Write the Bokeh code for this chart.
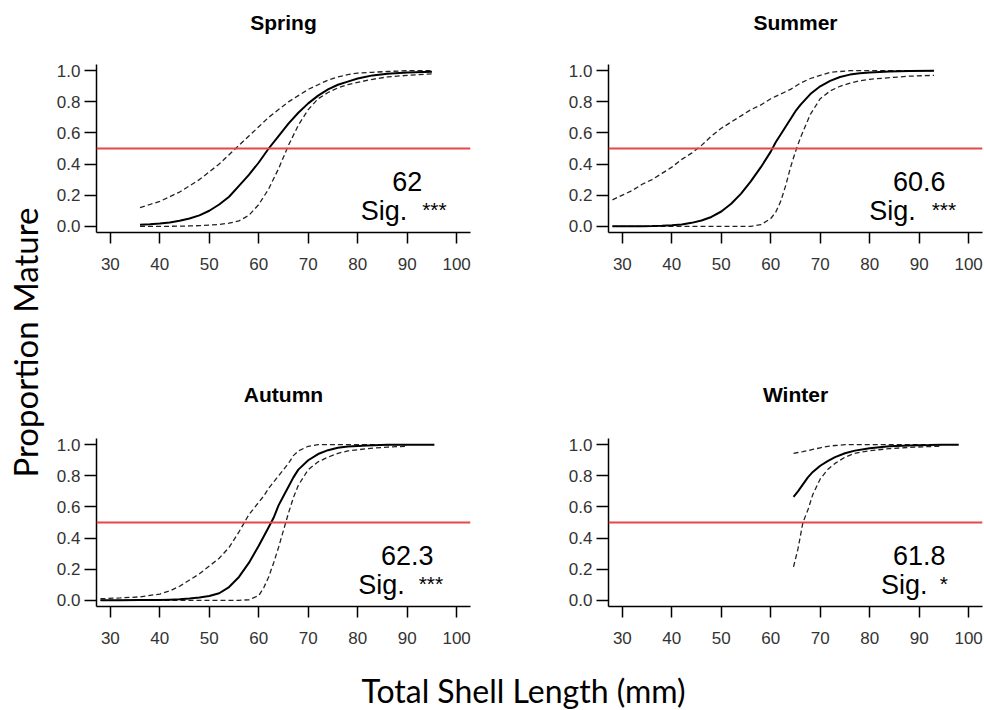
import math
from bokeh.plotting import figure
from bokeh.models import Range1d, FixedTicker, PrintfTickFormatter, Span, Label
from bokeh.layouts import row, column
from bokeh.embed import file_html
from bokeh.resources import INLINE
from bokeh.core.properties import value

NaN = float("nan")

# ---------------- data ----------------
seasons = ["Spring", "Summer", "Autumn", "Winter"]
l50_labels = ["62", "60.6", "62.3", "61.8"]
sig_labels = ["***", "***", "***", "*"]
x_ticks = [30, 40, 50, 60, 70, 80, 90, 100]
y_ticks = [0.0, 0.2, 0.4, 0.6, 0.8, 1.0]
threshold = 0.5

spring_x = [36, 38, 40, 42, 44, 46, 48, 50, 52, 54, 56, 58, 60, 62, 64, 66, 68, 70, 72, 74, 76, 78,
            80, 83, 86, 90, 95]
spring_fit = [0.01, 0.013, 0.018, 0.025, 0.035, 0.05, 0.07, 0.10, 0.14, 0.19, 0.26, 0.33, 0.41,
              0.50, 0.58, 0.66, 0.73, 0.79, 0.84, 0.88, 0.91, 0.93, 0.95, 0.97, 0.98, 0.988, 0.993]
spring_upper = [0.12, 0.14, 0.16, 0.19, 0.22, 0.26, 0.30, 0.35, 0.40, 0.46, 0.52, 0.58, 0.64,
                0.70, 0.75, 0.80, 0.84, 0.88, 0.91, 0.94, 0.96, 0.975, 0.985, 0.99, 0.995, 1.0, 1.0]
spring_lower = [0.0, 0.0, 0.0, 0.0, 0.001, 0.002, 0.004, 0.007, 0.012, 0.02, 0.035, 0.07, 0.14,
                0.24, 0.37, 0.52, 0.65, 0.75, 0.82, 0.86, 0.89, 0.91, 0.925, 0.945, 0.96, 0.97, 0.98]

summer_x = [28, 30, 32, 34, 36, 38, 40, 42, 44, 46, 48, 50, 52, 54, 56, 58, 60, 61, 62, 63, 64,
            65, 66, 68, 70, 72, 74, 76, 78, 80, 84, 88, 93]
summer_fit = [0.0, 0.0, 0.0, 0.0, 0.001, 0.003, 0.006, 0.012, 0.022, 0.037, 0.06, 0.095, 0.145,
              0.21, 0.29, 0.38, 0.48, 0.54, 0.59, 0.64, 0.69, 0.74, 0.78, 0.85, 0.90, 0.935, 0.96,
              0.975, 0.983, 0.988, 0.995, 0.998, 1.0]
summer_upper = [0.17, 0.20, 0.23, 0.27, 0.30, 0.34, 0.38, 0.43, 0.47, 0.52, 0.58, 0.63, 0.67,
                0.71, 0.75, 0.78, 0.82, 0.835, 0.85, 0.865, 0.88, 0.90, 0.92, 0.95, 0.97, 0.99,
                0.995, 1.0, 1.0, 1.0, 1.0, 1.0, 1.0]
summer_lower = [0.0, 0.0, 0.0, 0.0, 0.0, 0.0, 0.0, 0.0, 0.0, 0.0, 0.0, 0.0, 0.0, 0.0, 0.0, 0.01,
                0.05, 0.09, 0.16, 0.26, 0.38, 0.48, 0.57, 0.72, 0.82, 0.87, 0.90, 0.92, 0.935,
                0.945, 0.955, 0.965, 0.97]

autumn_x = [28, 32, 36, 40, 42, 44, 46, 48, 50, 52, 54, 56, 58, 60, 61, 62, 63, 64, 65, 66, 67,
            68, 70, 72, 74, 76, 78, 82, 86, 90, 95.5]
autumn_fit = [0.0, 0.0, 0.001, 0.002, 0.004, 0.006, 0.011, 0.018, 0.027, 0.045, 0.085, 0.15, 0.24,
              0.35, 0.41, 0.47, 0.53, 0.61, 0.67, 0.73, 0.79, 0.84, 0.90, 0.94, 0.965, 0.98, 0.988,
              0.995, 1.0, 1.0, 1.0]
autumn_upper = [0.01, 0.015, 0.022, 0.04, 0.06, 0.09, 0.13, 0.17, 0.22, 0.27, 0.34, 0.44, 0.55,
                0.63, 0.67, 0.72, 0.76, 0.80, 0.84, 0.88, 0.93, 0.96, 0.99, 1.0, 1.0, 1.0, 1.0, 1.0,
                1.0, 1.0, NaN]
autumn_lower = [0.0, 0.0, 0.0, 0.0, 0.0, 0.0, 0.0, 0.0, 0.0, 0.0, 0.0, 0.0, 0.003, 0.03, 0.08,
                0.15, 0.24, 0.34, 0.45, 0.56, 0.66, 0.74, 0.84, 0.89, 0.92, 0.945, 0.96, 0.975,
                0.985, 0.99, NaN]

winter_x = [64.6, 65.5, 66.5, 67.5, 68.5, 70, 71.5, 73, 75, 77, 80, 84, 88, 92, 94.5, 98]
winter_fit = [0.665, 0.70, 0.745, 0.79, 0.825, 0.865, 0.895, 0.92, 0.945, 0.962, 0.978, 0.99,
              0.995, 0.998, 1.0, 1.0]
winter_upper = [0.945, 0.95, 0.955, 0.962, 0.97, 0.98, 0.99, 0.995, 1.0, 1.0, 1.0, 1.0, 1.0, 1.0,
                1.0, NaN]
winter_lower = [0.215, 0.33, 0.50, 0.58, 0.68, 0.78, 0.84, 0.88, 0.92, 0.945, 0.962, 0.975, 0.983,
                0.988, 0.99, NaN]

curves = [
    (spring_x, spring_fit, spring_upper, spring_lower),
    (summer_x, summer_fit, summer_upper, summer_lower),
    (autumn_x, autumn_fit, autumn_upper, autumn_lower),
    (winter_x, winter_fit, winter_upper, winter_lower),
]

# ---------------- styling ----------------
PLOT_FONT = "Liberation Sans"
LABEL_FONT = "Lato"
TICK_COLOR = "#333333"
RED = "#e5474a"
X_LO, X_HI = 27.2, 102.8
Y_LO, Y_HI = -0.04, 1.04


def blank(width, height, x0, x1):
    """A figure with no axes, used as a strip that holds text (page pixel coordinates)."""
    f = figure(width=width, height=height, x_range=Range1d(x0, x1), y_range=Range1d(0, height),
               x_axis_type=None, y_axis_type=None, output_backend="svg", toolbar_location=None,
               min_border=0)
    f.grid.visible = False
    f.outline_line_color = None
    return f


def make_panel(i, width, height, b_left, b_right, b_top, b_bottom, sig_x, sig_star_x):
    xs, fit, up, lo = curves[i]
    p = figure(width=width, height=height, title=None,
               x_range=Range1d(X_LO, X_HI), y_range=Range1d(Y_LO, Y_HI),
               output_backend="svg", toolbar_location=None,
               min_border_left=b_left, min_border_right=b_right,
               min_border_top=b_top, min_border_bottom=b_bottom)
    p.grid.visible = False
    p.outline_line_color = None
    p.background_fill_color = "white"
    p.border_fill_color = "white"

    for ax in (p.xaxis[0], p.yaxis[0]):
        ax.axis_line_color = "black"
        ax.axis_line_width = 1.5
        ax.major_tick_line_color = "black"
        ax.major_tick_line_width = 1.5
        ax.major_tick_in = 0
        ax.minor_tick_in = 0
        ax.minor_tick_out = 0
        ax.major_label_text_font = PLOT_FONT
        ax.major_label_text_font_size = "17px"
        ax.major_label_text_color = TICK_COLOR
    p.xaxis.ticker = FixedTicker(ticks=x_ticks)
    p.xaxis.major_tick_out = 11
    p.xaxis.major_label_standoff = 14
    p.yaxis.ticker = FixedTicker(ticks=y_ticks)
    p.yaxis.formatter = PrintfTickFormatter(format="%.1f")
    p.yaxis.major_tick_out = 12
    p.yaxis.major_label_standoff = 4

    p.add_layout(Span(location=threshold, dimension="width", line_color=RED, line_width=1.8))

    p.line(xs, up, line_color="#222222", line_width=1.3, line_dash="5 3")
    p.line(xs, lo, line_color="#222222", line_width=1.3, line_dash="5 3")
    p.line(xs, fit, line_color="black", line_width=2)

    p.text(x=[90], y=[0.285], text=[l50_labels[i]], text_font=value(PLOT_FONT),
           text_font_size="27px", text_align="center", text_baseline="middle", text_color="black")
    p.text(x=[sig_x], y=[0.10], text=["Sig."], text_font=value(PLOT_FONT),
           text_font_size="27px", text_align="left", text_baseline="middle", text_color="black")
    p.text(x=[sig_star_x], y=[0.105], text=[sig_labels[i]], text_font=value(PLOT_FONT),
           text_font_size="21px", text_align="center", text_baseline="middle", text_color="black")
    return p


def title_strip(names, centers, height, text_y):
    s = blank(939, height, 45, 984)
    for name, cx in zip(names, centers):
        s.add_layout(Label(x=cx, y=text_y, text=name, text_align="center", text_baseline="middle",
                           text_font=PLOT_FONT, text_font_style="bold", text_font_size="21px",
                           text_color="black"))
    return s


t1 = title_strip(seasons[0:2], [283, 795], 44, 22)
p1 = make_panel(0, 455, 330, 51, 30, 20, 142, 80.6, 95.5)
p2 = make_panel(1, 484, 330, 108, 2, 20, 142, 79.9, 95.0)
t2 = title_strip(seasons[2:4], [283, 795], 44, 24)
p3 = make_panel(2, 455, 242, 51, 30, 20, 54, 80.1, 94.8)
p4 = make_panel(3, 484, 242, 108, 2, 20, 54, 82.3, 95.0)

# left strip: y-axis title
left = blank(45, 710, 0, 45)
left.add_layout(Label(x=24, y=368, text="Proportion Mature", angle=math.pi / 2,
                      text_align="center", text_baseline="middle", text_font=LABEL_FONT,
                      text_font_size="33px", text_color="black"))

# bottom strip: x-axis title
bottom = blank(939, 50, 45, 984)
bottom.add_layout(Label(x=523, y=20, text="Total Shell Length (mm)", text_align="center",
                        text_baseline="middle", text_font=LABEL_FONT, text_font_size="32px",
                        text_color="black"))

layout = row(left, column(t1, row(p1, p2), t2, row(p3, p4), bottom))

open("out.html", "w").write(file_html(layout, INLINE))
